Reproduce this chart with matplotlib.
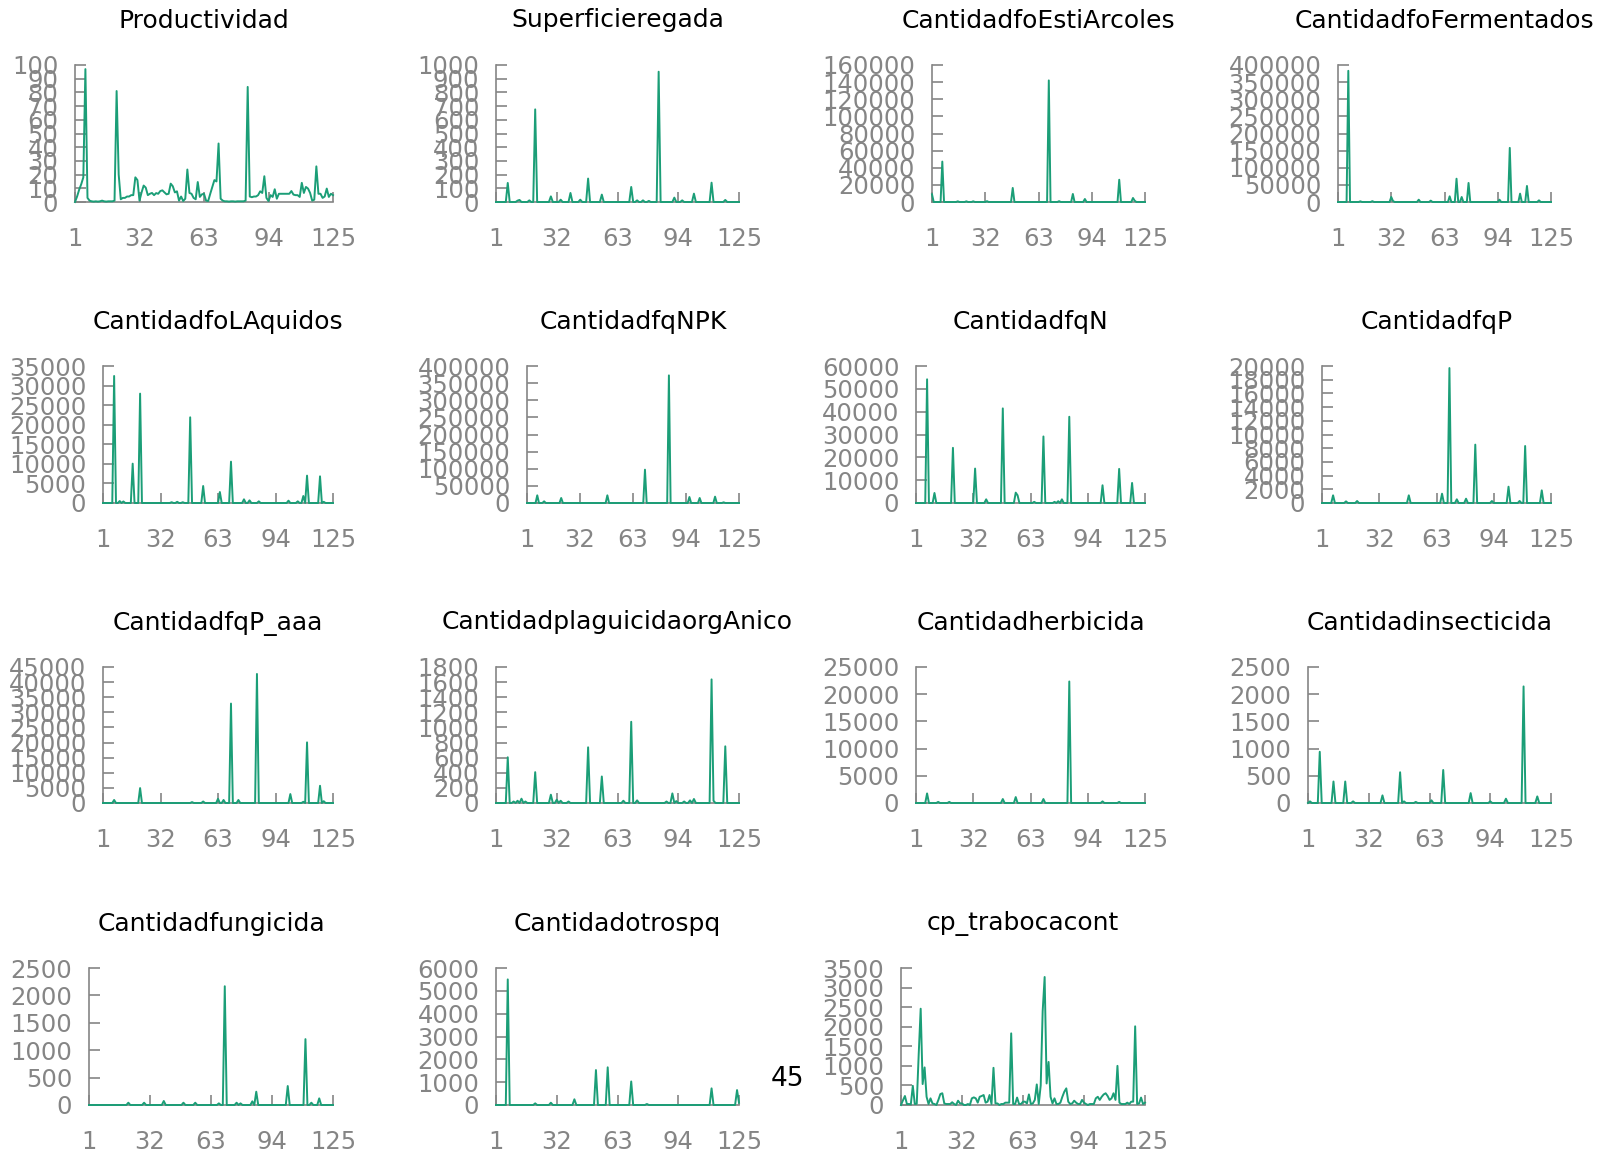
import numpy as np
import matplotlib
matplotlib.use("Agg")
import matplotlib.pyplot as plt

N = 125
x_ticks = [1, 32, 63, 94, 125]

titles = ["Productividad", "Superficieregada", "CantidadfoEstiArcoles", "CantidadfoFermentados",
          "CantidadfoLAquidos", "CantidadfqNPK", "CantidadfqN", "CantidadfqP",
          "CantidadfqP_aaa", "CantidadplaguicidaorgAnico", "Cantidadherbicida", "Cantidadinsecticida",
          "Cantidadfungicida", "Cantidadotrospq", "cp_trabocacont"]

# y-axis top value and tick step per panel
y_max = [100, 1000, 160000, 400000, 35000, 400000, 60000, 20000,
         45000, 1800, 25000, 2500, 2500, 6000, 3500]
y_step = [10, 100, 20000, 50000, 5000, 50000, 10000, 2000,
          5000, 200, 5000, 500, 500, 1000, 500]

productividad = [
    0, 4, 9, 13, 18, 97, 3, 1, 0.5, 0.3,
    0.5, 0.3, 0.5, 1, 0.5, 0.3, 0.5, 0.5, 0.5, 1,
    81, 20, 2, 3, 3, 4, 4, 5, 5, 18,
    16, 1, 7, 12, 10.5, 5, 6, 6.6, 5, 6.5,
    6, 8, 8.5, 7, 5.6, 6, 13.4, 11.5, 7, 7.8,
    1, 4, 0.7, 2.4, 23.7, 6.6, 6, 3, 2, 14.6,
    3.7, 5.6, 6, 1, 0.7, 6, 11, 16, 15, 42.7,
    2.4, 1, 0.5, 0.5, 0.3, 0.5, 0.5, 0.3, 0.5, 0.5,
    0.5, 0.5, 1, 84, 4, 3.5, 4, 4, 5, 7.8,
    6.6, 18.8, 3, 0.7, 5, 3.7, 9.3, 2.4, 6, 6,
    6, 6, 6, 6, 8, 5.4, 5, 5, 3.7, 14,
    6.6, 11, 9.8, 6.6, 1, 1.7, 26, 6, 6, 3,
    4, 9.8, 3.7, 6, 5]

cp_trabocacont = [
    0, 120, 230, 25, 25, 20, 490, 25, 30, 1300,
    2460, 535, 960, 210, 25, 170, 40, 25, 0, 130,
    280, 300, 40, 25, 25, 25, 70, 25, 0, 110,
    40, 40, 0, 0, 25, 0, 170, 195, 170, 60,
    210, 230, 255, 60, 85, 255, 25, 950, 40, 40,
    0, 25, 25, 60, 60, 60, 1830, 25, 25, 190,
    25, 25, 85, 85, 40, 270, 25, 40, 130, 525,
    25, 500, 2400, 3270, 550, 1100, 210, 40, 170, 25,
    25, 60, 210, 340, 425, 85, 25, 40, 110, 60,
    25, 25, 130, 60, 25, 0, 25, 25, 25, 170,
    210, 130, 210, 270, 300, 230, 130, 170, 300, 130,
    1000, 60, 25, 25, 25, 60, 25, 85, 85, 2010,
    25, 40, 190, 25, 60]

superficie_idx = [7, 12, 13, 18, 21, 29, 34, 39, 44, 48, 55, 70, 73, 76, 79, 84, 92, 96, 102, 111, 118]
superficie_val = [139, 10, 15, 12, 676, 41, 17, 66, 17, 171, 54, 110, 12, 12, 8, 951, 32, 12, 61, 141, 15]

esti_idx = [1, 7, 16, 21, 25, 33, 48, 69, 75, 83, 90, 110, 118, 119]
esti_val = [9000, 47200, 800, 800, 800, 1000, 16400, 142000, 1000, 9400, 3500, 26000, 4700, 1500]

ferm_idx = [7, 14, 21, 32, 33, 48, 55, 66, 70, 73, 77, 95, 101, 107, 111, 118]
ferm_val = [383000, 2000, 2500, 14600, 3000, 6800, 4000, 16600, 68000, 14600, 55600, 6800,
            158000, 24400, 46800, 4900]

laq_idx = [7, 10, 12, 17, 21, 38, 41, 44, 48, 55, 64, 70, 77, 80, 85, 101, 106, 109, 111, 118, 120]
laq_val = [32450, 500, 400, 10050, 27940, 200, 300, 200, 21890, 4340, 2810, 10560, 940, 680, 430,
           600, 430, 1790, 6990, 6810, 300]

npk_idx = [7, 11, 21, 48, 70, 84, 96, 102, 111, 116]
npk_val = [22400, 4900, 14600, 22400, 97300, 372600, 17500, 14600, 18500, 2000]

fqn_idx = [7, 11, 21, 33, 39, 48, 55, 56, 65, 70, 76, 78, 80, 84, 102, 111, 118]
fqn_val = [54170, 4390, 24160, 15080, 1610, 41430, 4540, 3370, 500, 29140, 500, 800, 1610, 37770,
           7760, 14930, 8780]

fqp_idx = [7, 14, 20, 48, 66, 70, 74, 79, 84, 93, 102, 108, 111, 120]
fqp_val = [1120, 240, 290, 1120, 1360, 19700, 540, 630, 8520, 290, 2380, 300, 8320, 1850]

paaa_idx = [7, 21, 49, 55, 63, 66, 70, 74, 84, 102, 109, 111, 118, 120]
paaa_val = [1000, 4930, 300, 500, 1400, 1000, 32900, 1000, 42700, 2960, 400, 20060, 5700, 600]

plag_idx = [7, 10, 12, 14, 16, 21, 29, 32, 34, 38, 48, 55, 66, 70, 73, 88, 91, 93, 97, 100, 102,
            111, 112, 118]
plag_val = [605, 20, 30, 57, 20, 408, 110, 44, 30, 20, 737, 351, 30, 1075, 35, 20, 127, 25, 20, 35,
            53, 1636, 30, 750]

herb_idx = [7, 13, 19, 48, 55, 70, 84, 102, 111]
herb_val = [1760, 200, 200, 730, 1090, 730, 22340, 300, 200]

insect_idx = [2, 7, 14, 20, 24, 39, 48, 50, 56, 64, 70, 84, 94, 102, 111, 118]
insect_val = [30, 941, 395, 395, 30, 140, 565, 30, 20, 50, 607, 182, 30, 79, 2143, 121]

fung_idx = [21, 29, 39, 49, 55, 67, 70, 76, 78, 84, 86, 102, 111, 114, 118]
fung_val = [42, 42, 73, 42, 42, 30, 2167, 42, 30, 67, 243, 346, 1202, 42, 121]

otros_idx = [7, 21, 29, 41, 52, 58, 70, 78, 111, 124, 125]
otros_val = [5500, 73, 100, 250, 1530, 1650, 1030, 44, 728, 655, 100]


def sparse(idx, val):
    arr = np.zeros(N)
    for i, v in zip(idx, val):
        arr[i - 1] = v
    return arr


series = [
    np.array(productividad, dtype=float),
    sparse(superficie_idx, superficie_val),
    sparse(esti_idx, esti_val),
    sparse(ferm_idx, ferm_val),
    sparse(laq_idx, laq_val),
    sparse(npk_idx, npk_val),
    sparse(fqn_idx, fqn_val),
    sparse(fqp_idx, fqp_val),
    sparse(paaa_idx, paaa_val),
    sparse(plag_idx, plag_val),
    sparse(herb_idx, herb_val),
    sparse(insect_idx, insect_val),
    sparse(fung_idx, fung_val),
    sparse(otros_idx, otros_val),
    np.array(cp_trabocacont, dtype=float),
]

# layout in pixels
W, H = 1614, 1155
lefts = [[75, 496, 932, 1338], [103, 527, 916, 1322], [103, 496, 916, 1308], [89, 496, 901]]
rights = [333, 739, 1145, 1551]
tops = [65, 366, 667, 968]
bottoms = [202, 503, 803, 1105]

GREY = "#858585"
GREEN = "#1b9e77"

fig = plt.figure(figsize=(W / 100, H / 100), dpi=100)
x = np.arange(1, N + 1)

k = 0
for r in range(4):
    for c in range(len(lefts[r])):
        l, rr, t, b = lefts[r][c], rights[c], tops[r], bottoms[r]
        ax = fig.add_axes([l / W, 1 - b / H, (rr - l) / W, (b - t) / H])
        ax.plot(x, series[k], color=GREEN, lw=1.4, clip_on=False, zorder=3)
        ax.set_xlim(1, N)
        ax.set_ylim(0, y_max[k])
        ax.set_xticks(x_ticks)
        ax.set_xticklabels([str(v) for v in x_ticks])
        yt = np.arange(0, y_max[k] + y_step[k] / 2, y_step[k])
        ax.set_yticks(yt)
        ax.set_yticklabels([str(int(v)) for v in yt])
        for s in ["top", "right"]:
            ax.spines[s].set_visible(False)
        for s in ["left", "bottom"]:
            ax.spines[s].set_color(GREY)
            ax.spines[s].set_linewidth(1.2)
        ax.tick_params(axis="x", direction="in", length=7, width=1.2, color=GREY,
                       labelcolor=GREY, labelsize=17.5, pad=18)
        ax.tick_params(axis="y", direction="in", length=8, width=1.2, color=GREY,
                       labelcolor=GREY, labelsize=17.5, pad=12)
        ax.set_title(titles[k], fontsize=18, pad=27, color="black")
        ax.patch.set_visible(False)
        k += 1

fig.text(787.5 / W, 1 - 1079 / H, "45", fontsize=19, ha="center", va="center", color="black")

fig.savefig("out.png", dpi=100)
